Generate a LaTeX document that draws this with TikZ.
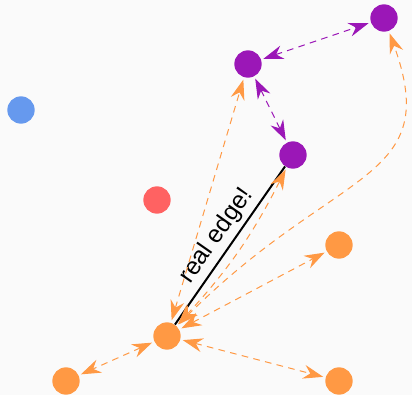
\documentclass[tikz,border=0pt]{standalone}
\usepackage{fontspec}
\setmainfont{Liberation Sans}
\usetikzlibrary{arrows.meta}
\definecolor{bgc}{HTML}{FAFAFA}
\definecolor{cblue}{HTML}{6699EE}
\definecolor{cred}{HTML}{FF6262}
\definecolor{cpurple}{HTML}{9B17B7}
\definecolor{corange}{HTML}{FF9944}
\tikzset{
  dot/.style={circle, fill=#1, draw=none, minimum size=20.5pt, inner sep=0pt},
  link/.style={draw=#1, dash pattern=on 5pt off 4pt, line width=0.75pt,
    shorten <=1.8pt, shorten >=1.8pt,
    {Stealth[length=15pt, width=10.5pt, inset=5pt, #1]}-{Stealth[length=15pt, width=10.5pt, inset=5pt, #1]}},
  realedge/.style={draw=black, line width=1.5pt},
}
\begin{document}
\begin{tikzpicture}[x=0.75pt, y=-0.75pt]
  \fill[bgc] (0,0) rectangle (412,395);
  \useasboundingbox (0,0) rectangle (412,395);

  % nodes
  \node[dot=cblue]   (b)  at (21,110)  {};
  \node[dot=cred]    (r)  at (157,200) {};
  \node[dot=cpurple] (p1) at (248,64)  {};
  \node[dot=cpurple] (p2) at (384,18)  {};
  \node[dot=cpurple] (p3) at (293,155) {};
  \node[dot=corange] (o)  at (167,336) {};
  \node[dot=corange] (o1) at (66,381)  {};
  \node[dot=corange] (o2) at (339,245) {};
  \node[dot=corange] (o3) at (339,381) {};

  % the real edge
  \draw[realedge] (o) -- node[midway, above, sloped, font=\fontsize{18.5}{20}\selectfont, inner sep=3pt] {real edge!} (p3);

  % purple links
  \draw[link=cpurple] (p1) -- (p2);
  \draw[link=cpurple] (p1) -- (p3);

  % orange links (y axis points down, so angles are mirrored)
  \draw[link=corange] (o) -- (p1);
  \draw[link=corange] (o) to[bend right=8] (p3);
  \draw[link=corange] (o) .. controls +(-45:240) and +(70:175) .. (p2);
  \draw[link=corange] (o) -- (o1);
  \draw[link=corange] (o) -- (o2);
  \draw[link=corange] (o) -- (o3);
\end{tikzpicture}
\end{document}
